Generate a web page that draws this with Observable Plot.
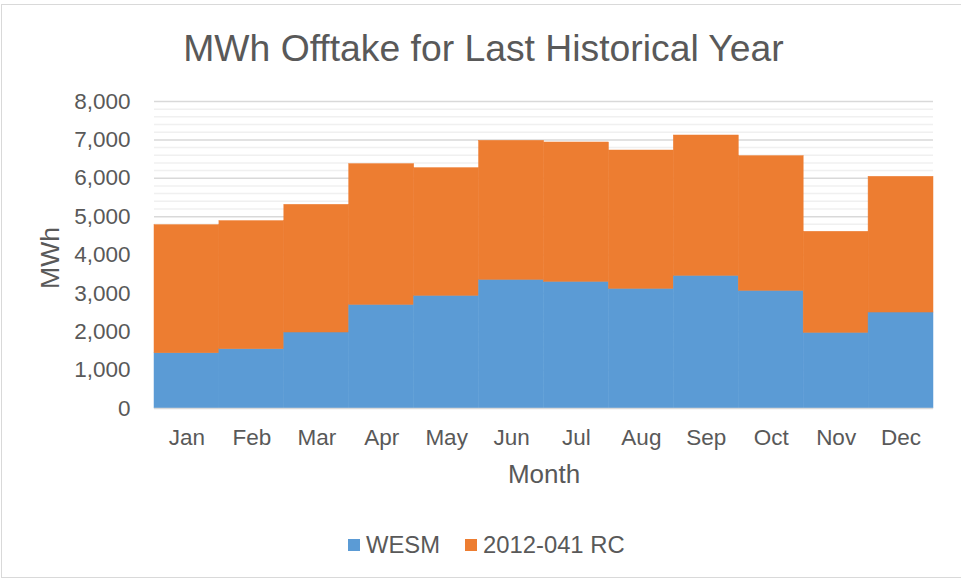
<!DOCTYPE html>
<html>
<head>
<meta charset="utf-8">
<script src="https://cdn.jsdelivr.net/npm/d3@7"></script>
<script src="https://cdn.jsdelivr.net/npm/@observablehq/plot@0.6"></script>
<style>
  html, body { margin: 0; padding: 0; background: #ffffff; }
  body { font-family: "Liberation Sans", Arial, sans-serif; color: #595959; }
  #wrap { position: relative; width: 961px; height: 580px; overflow: hidden; }
  #border { position: absolute; left: 1px; top: 4px; width: 970px; height: 574px; border: 1px solid #d9d9d9; box-sizing: border-box; }
  #title { position: absolute; left: 3px; top: 26px; width: 961px; text-align: center; font-size: 37.3px; line-height: 44px; color: #595959; white-space: nowrap; }
  #chart { position: absolute; left: 0; top: 80px; }
  #legend { position: absolute; left: 348px; top: 531px; height: 28px; display: flex; align-items: center; font-size: 23.8px; color: #595959; white-space: nowrap; }
  .sw { display: inline-block; width: 12px; height: 12px; margin-right: 6px; }
  .item { display: flex; align-items: center; margin-right: 25px; }
</style>
</head>
<body>
<div id="wrap">
  <div id="border"></div>
  <div id="title">MWh Offtake for Last Historical Year</div>
  <div id="chart"></div>
  <div id="legend"></div>
</div>
<script>
// ---- data ----
const months = ["Jan", "Feb", "Mar", "Apr", "May", "Jun", "Jul", "Aug", "Sep", "Oct", "Nov", "Dec"];
const wesm = [1440, 1546, 1980, 2700, 2936, 3353, 3301, 3119, 3457, 3066, 1972, 2501];
const rc   = [3337, 3336, 3327, 3667, 3327, 3622, 3631, 3604, 3657, 3509, 2632, 3536];
const seriesNames = ["WESM", "2012-041 RC"];
const seriesColors = ["#5B9BD5", "#ED7D31"];
const yTicks = [0, 1000, 2000, 3000, 4000, 5000, 6000, 7000, 8000];
const yMinorStep = 200;

const rows = months.flatMap((m, i) => [
  {month: m, series: seriesNames[0], value: wesm[i]},
  {month: m, series: seriesNames[1], value: rc[i]}
]);
const minorTicks = d3.range(0, 8000 + 1, yMinorStep).filter(v => !yTicks.includes(v));

const chart = Plot.plot({
  width: 961,
  height: 420,
  marginLeft: 154,
  marginRight: 28,
  marginTop: 21,
  marginBottom: 92,
  style: {fontFamily: '"Liberation Sans", Arial, sans-serif', color: "#595959", background: "transparent", overflow: "visible"},
  x: {type: "band", domain: months, padding: 0, round: false, axis: null},
  y: {domain: [0, 8000], axis: null},
  color: {domain: seriesNames, range: seriesColors},
  marks: [
    Plot.ruleY(minorTicks, {stroke: "#f0f0f0", strokeWidth: 1.5}),
    Plot.ruleY(yTicks.filter(v => v > 0), {stroke: "#d9d9d9", strokeWidth: 1.5}),
    Plot.barY(rows, {x: "month", y: "value", fill: "series", inset: 0, stroke: "series", strokeWidth: 0.5}),
    Plot.ruleY([0], {stroke: "#d9d9d9", strokeWidth: 1.5}),
    Plot.axisX({tickSize: 0, tickPadding: 21, fontSize: 22.5, label: null, fill: "#595959"}),
    Plot.axisY({ticks: yTicks, tickSize: 0, tickPadding: 24, fontSize: 22.5, tickFormat: d3.format(","), label: null, fill: "#595959"}),
    Plot.text(["MWh"], {text: d => d, frameAnchor: "left", dx: -104, dy: 3, rotate: -90, textAnchor: "middle", lineAnchor: "middle", fontSize: 26.5, fill: "#595959"}),
    Plot.text(["Month"], {text: d => d, frameAnchor: "bottom", dy: 66, textAnchor: "middle", lineAnchor: "middle", fontSize: 26, fill: "#595959"})
  ]
});
document.getElementById("chart").appendChild(chart);

const legend = document.getElementById("legend");
seriesNames.forEach((name, i) => {
  const item = document.createElement("span");
  item.className = "item";
  const sw = document.createElement("span");
  sw.className = "sw";
  sw.style.background = seriesColors[i];
  item.appendChild(sw);
  item.appendChild(document.createTextNode(name));
  legend.appendChild(item);
});
</script>
</body>
</html>
